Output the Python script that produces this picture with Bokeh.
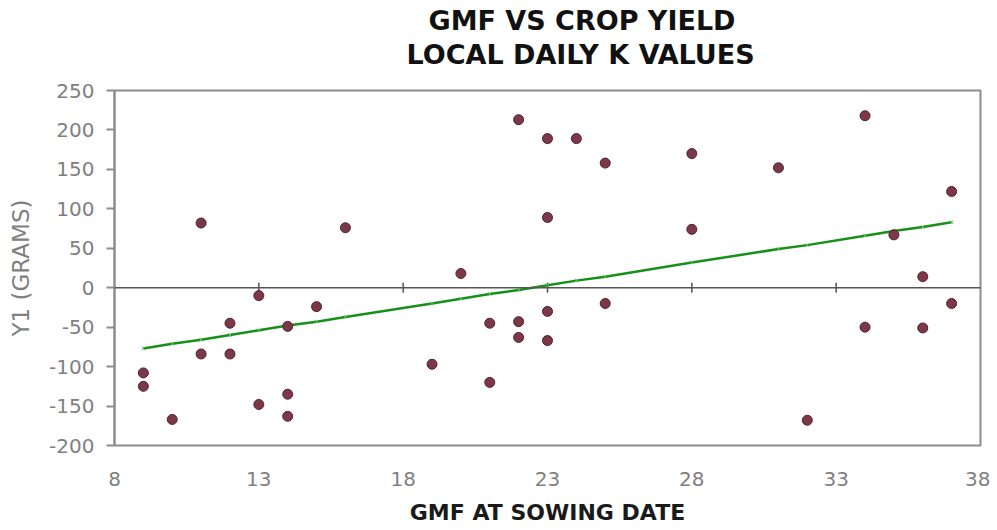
import math
from bokeh.plotting import figure
from bokeh.models import Title, FixedTicker, Span, Range1d
from bokeh.embed import file_html
from bokeh.resources import INLINE

# ---- data ----
gmf = [9, 9, 10, 11, 11, 12, 12, 13, 13, 14, 14, 14, 15, 16, 19, 20, 21, 21,
       22, 22, 22, 23, 23, 23, 23, 24, 25, 25, 28, 28, 31, 32, 34, 34, 35,
       36, 36, 37, 37]
yield_g = [-108, -125, -167, 82, -84, -45, -84, -10, -148, -49, -135, -163, -24,
           76, -97, 18, -45, -120, 213, -43, -63, 189, 89, -30, -67, 189, 158,
           -20, 170, 74, 152, -168, 218, -50, 67, 14, -51, 122, -20]

trend_gmf = [9, 10, 11, 12, 13, 14, 15, 16, 19, 20, 21, 22, 23, 24, 25, 28, 31,
             32, 34, 35, 36, 37]
trend_y = [-77, -71, -66, -60, -54, -48, -43, -37, -20, -14, -8, -3, 3, 9, 14,
           32, 49, 54, 66, 72, 77, 83]

x_ticks = [8, 13, 18, 23, 28, 33, 38]
y_ticks = [-200, -150, -100, -50, 0, 50, 100, 150, 200, 250]
zero_ticks = [13, 18, 23, 28, 33]

title_line1 = "GMF VS CROP YIELD"
title_line2 = "LOCAL DAILY K VALUES"
x_label = "GMF AT SOWING DATE"
y_label = "Y1 (GRAMS)"

FONT = "DejaVu Sans"
GRAY = "#808080"
FRAME = "#8c8c8c"

p = figure(width=990, height=530, output_backend="svg", toolbar_location=None,
           x_range=Range1d(8, 38), y_range=Range1d(-200, 250),
           min_border_left=114, min_border_right=10, min_border_top=90,
           min_border_bottom=85, title=title_line1)

p.background_fill_color = "white"
p.border_fill_color = "white"
p.outline_line_color = FRAME
p.outline_line_width = 2
p.xgrid.visible = False
p.ygrid.visible = False

# outer title line (p.title is stacked farthest from the frame)
p.title.text_font = FONT
p.title.text_font_style = "bold"
p.title.text_font_size = "27px"
p.title.text_color = "#111111"
p.title.align = "left"
p.title.vertical_align = "bottom"
p.title.offset = 314
p.title.standoff = -33

t2 = Title(text=title_line2, text_font=FONT, text_font_style="bold",
           text_font_size="27px", text_color="#111111", align="left",
           vertical_align="top", offset=292, standoff=38)
p.add_layout(t2, "above")

# x axis
xa = p.xaxis[0]
xa.ticker = FixedTicker(ticks=x_ticks)
xa.major_tick_out = 0
xa.major_tick_in = 0
xa.minor_tick_out = 0
xa.minor_tick_in = 0
xa.axis_line_color = None
xa.major_label_text_font = FONT
xa.major_label_text_font_size = "20px"
xa.major_label_text_color = GRAY
xa.major_label_standoff = 26
xa.axis_label = x_label
xa.axis_label_text_font = FONT
xa.axis_label_text_font_style = "bold"
xa.axis_label_text_font_size = "22px"
xa.axis_label_text_color = "#1a1a1a"
xa.axis_label_standoff = 11

# y axis
ya = p.yaxis[0]
ya.ticker = FixedTicker(ticks=y_ticks)
ya.major_label_overrides = {v: str(v) for v in y_ticks}
ya.major_tick_out = 8
ya.major_tick_in = 0
ya.minor_tick_out = 0
ya.minor_tick_in = 0
ya.axis_line_color = FRAME
ya.axis_line_width = 2
ya.major_tick_line_color = FRAME
ya.major_tick_line_width = 2
ya.major_label_text_font = FONT
ya.major_label_text_font_size = "20px"
ya.major_label_text_color = GRAY
ya.major_label_standoff = 12
ya.axis_label = y_label
ya.axis_label_text_font = FONT
ya.axis_label_text_font_style = "normal"
ya.axis_label_text_font_size = "23px"
ya.axis_label_text_color = GRAY
ya.axis_label_standoff = 12

# zero line with small ticks
p.add_layout(Span(location=0, dimension="width", line_color="#555555",
                  line_width=1.5))
p.scatter(x=zero_ticks, y=[0] * len(zero_ticks), marker="dash",
          angle=math.pi / 2, size=10, line_color="#555555", line_width=1.5)

# trend line
p.line(trend_gmf, trend_y, line_color="#17901a", line_width=2.5)
p.scatter(trend_gmf, trend_y, marker="x", size=5, line_color="#5cc05c",
          line_width=1)

# observations
p.scatter(gmf, yield_g, size=10, fill_color="#7a3848", line_color="#55212f",
          line_width=1)

open("out.html", "w").write(file_html(p, INLINE))
